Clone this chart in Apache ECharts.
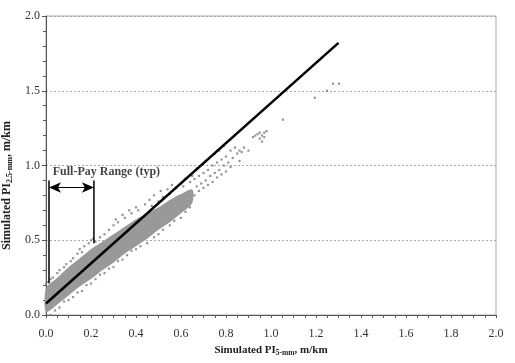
<!DOCTYPE html>
<html>
<head>
<meta charset="utf-8">
<script src="https://cdn.jsdelivr.net/npm/echarts@6/dist/echarts.min.js"></script>
<style>html,body{margin:0;padding:0;background:#fff;}#c{width:515px;height:363px;}</style>
</head>
<body>
<div id="c"></div>
<script>
// Dense core of the point cloud (upper/lower edges)
const bandX     = [0, 0.05, 0.1, 0.15, 0.2, 0.25, 0.3, 0.35, 0.4, 0.45, 0.5, 0.55, 0.6, 0.65];
const bandUpper = [0.18, 0.25, 0.32, 0.38, 0.44, 0.49, 0.54, 0.59, 0.64, 0.68, 0.72, 0.77, 0.81, 0.84];
const bandLower = [0.02, 0.07, 0.13, 0.19, 0.24, 0.30, 0.35, 0.41, 0.46, 0.51, 0.57, 0.62, 0.68, 0.75];

// Individually visible points
const points = [
 [0.0,0.21],[0.01,0.22],[0.02,0.24],[0.03,0.25],[0.05,0.28],[0.06,0.3],[0.08,0.32],[0.09,0.34],[0.11,0.36],[0.12,0.38],[0.14,0.41],[0.15,0.44],[0.16,0.42],[0.17,0.46],[0.19,0.48],[0.2,0.5],[0.21,0.51],[0.22,0.49],[0.24,0.52],[0.26,0.54],[0.28,0.57],[0.3,0.6],[0.31,0.64],[0.32,0.62],[0.34,0.67],[0.35,0.65],[0.37,0.7],[0.38,0.68],[0.4,0.72],[0.41,0.7],
 [0.02,0.0],[0.04,0.03],[0.06,0.05],[0.08,0.09],[0.1,0.1],[0.12,0.12],[0.14,0.15],[0.16,0.16],[0.18,0.2],[0.2,0.21],[0.22,0.24],[0.24,0.27],[0.26,0.28],[0.28,0.31],[0.3,0.32],[0.32,0.36],[0.34,0.37],[0.36,0.4],[0.38,0.43],[0.4,0.44],[0.42,0.46],[0.45,0.48],[0.48,0.52],[0.5,0.54],[0.52,0.57],[0.55,0.6],[0.57,0.63],[0.6,0.65],[0.62,0.69],[0.64,0.72],
 [0.44,0.74],[0.46,0.77],[0.47,0.73],[0.48,0.8],[0.5,0.76],[0.51,0.83],[0.52,0.79],[0.54,0.84],[0.55,0.81],[0.56,0.87],[0.58,0.85],[0.6,0.88],[0.61,0.86],[0.62,0.91],[0.64,0.89],[0.65,0.93],
 [0.66,0.8],[0.66,0.91],[0.67,0.86],[0.68,0.83],[0.68,0.93],[0.69,0.88],[0.7,0.85],[0.7,0.95],[0.71,0.9],[0.72,0.87],[0.72,0.97],[0.73,0.93],[0.74,0.89],[0.74,1.0],[0.75,0.95],[0.76,0.92],[0.76,1.02],[0.77,0.97],[0.78,0.94],[0.78,1.04],[0.79,1.0],[0.8,0.96],[0.8,1.06],[0.81,1.02],[0.82,1.1],[0.82,0.99],[0.83,1.05],[0.84,1.12],[0.85,1.08],[0.86,1.03],[0.86,1.1],[0.87,1.09],[0.88,1.12],[0.9,1.1],
 [0.67,0.98],[0.71,1.03],[0.75,1.08],[0.77,1.1],[0.79,1.13],
 [0.92,1.19],[0.93,1.2],[0.94,1.21],[0.95,1.22],[0.95,1.18],[0.96,1.2],[0.96,1.16],[0.97,1.22],[0.97,1.19],[0.98,1.23],
 [1.053,1.307],[1.195,1.453],[1.249,1.50],[1.276,1.547],[1.302,1.547]
];

// Black reference line
const refLine = [[0, 0.077], [1.3, 1.82]];

// Full-pay range annotation
const payLeft  = [[0.0133, 0.213], [0.0133, 0.9]];
const payRight = [[0.213, 0.48], [0.213, 0.9]];
const payArrow = [[0.0133, 0.853], [0.213, 0.853]];
const payLabelPos = [0.03, 0.955];
const payLabel = 'Full-Pay Range (typ)';

const xTitle = '{b|Simulated PI}{s|5-mm}{b|, m/km}';
const yTitle = '{b|Simulated PI}{s|2.5-mm}{b|, m/km}';

const font = 'Liberation Serif';
const chart = echarts.init(document.getElementById('c'), null, {renderer: 'canvas'});

const xRich = {
  b: {fontFamily: font, fontWeight: 'bold', fontSize: 11, color: '#222'},
  s: {fontFamily: font, fontWeight: 'bold', fontSize: 7.5, color: '#222', verticalAlign: 'bottom', padding: [6, 0, 0, 0]}
};
const yRich = {
  b: {fontFamily: font, fontWeight: 'bold', fontSize: 12, color: '#222'},
  s: {fontFamily: font, fontWeight: 'bold', fontSize: 8, color: '#222', verticalAlign: 'bottom', padding: [6, 0, 0, 0]}
};

chart.setOption({
  backgroundColor: '#fff',
  animation: false,
  grid: {left: 46, right: 19, top: 16, bottom: 48, show: true, borderColor: '#aaa', borderWidth: 1,
         containLabel: false, outerBoundsMode: 'none'},
  xAxis: {
    type: 'value', min: 0, max: 2, interval: 0.2,
    name: xTitle, nameLocation: 'middle', nameGap: 26,
    nameTextStyle: {rich: xRich},
    axisLine: {show: true, lineStyle: {color: '#555', width: 1}},
    axisTick: {show: true, length: 3, lineStyle: {color: '#555'}},
    minorTick: {show: true, splitNumber: 4, length: 3, lineStyle: {color: '#555'}},
    axisLabel: {fontFamily: font, fontSize: 12, color: '#333', margin: 13, formatter: v => v.toFixed(1)},
    splitLine: {show: false}
  },
  yAxis: {
    type: 'value', min: 0, max: 2, interval: 0.5,
    name: yTitle, nameLocation: 'middle', nameGap: 27, nameRotate: 90,
    nameTextStyle: {rich: yRich, padding: [0, 40, 0, 0]},
    axisLine: {show: true, lineStyle: {color: '#555', width: 1}},
    axisTick: {show: true, length: 4, lineStyle: {color: '#555'}},
    minorTick: {show: true, splitNumber: 5, length: 3, lineStyle: {color: '#555'}},
    axisLabel: {fontFamily: font, fontSize: 12, color: '#333', margin: 6, formatter: v => v.toFixed(1)},
    splitLine: {show: true, lineStyle: {color: '#aaa', type: [2, 2], width: 1}}
  },
  series: [
    {
      type: 'custom',
      renderItem: function (params, api) {
        const pts = [];
        for (let i = 0; i < bandX.length; i++) pts.push(api.coord([bandX[i], bandUpper[i]]));
        for (let i = bandX.length - 1; i >= 0; i--) pts.push(api.coord([bandX[i], bandLower[i]]));
        return {type: 'polygon', shape: {points: pts, smooth: 0.3}, style: {fill: '#999999'}};
      },
      data: [0],
      silent: true,
      z: 1
    },
    {
      type: 'scatter', data: points, symbol: 'rect', symbolSize: 2.2,
      itemStyle: {color: '#7a7a7a'}, silent: true, z: 2
    },
    {
      type: 'line', data: refLine, symbol: 'none',
      lineStyle: {color: '#000', width: 2.5}, z: 5, silent: true
    },
    {
      type: 'line', data: payLeft, symbol: 'none',
      lineStyle: {color: '#000', width: 1.5}, z: 6, silent: true
    },
    {
      type: 'line', data: payRight, symbol: 'none',
      lineStyle: {color: '#000', width: 1.5}, z: 6, silent: true
    },
    {
      type: 'line', data: payArrow, symbol: 'none',
      lineStyle: {color: '#000', width: 1.2}, z: 6, silent: true,
      markLine: {
        silent: true, symbol: ['arrow', 'arrow'], symbolSize: [8, 12],
        lineStyle: {color: '#000', width: 1.2, type: 'solid'},
        label: {show: false},
        data: [[{coord: payArrow[0]}, {coord: payArrow[1]}]]
      }
    },
    {
      type: 'scatter', data: [payLabelPos], symbolSize: 0, silent: true, z: 7,
      label: {show: true, position: 'right', distance: 0, formatter: payLabel,
        fontFamily: font, fontWeight: 'bold', fontSize: 12, color: '#111'}
    }
  ]
});
</script>
</body>
</html>
